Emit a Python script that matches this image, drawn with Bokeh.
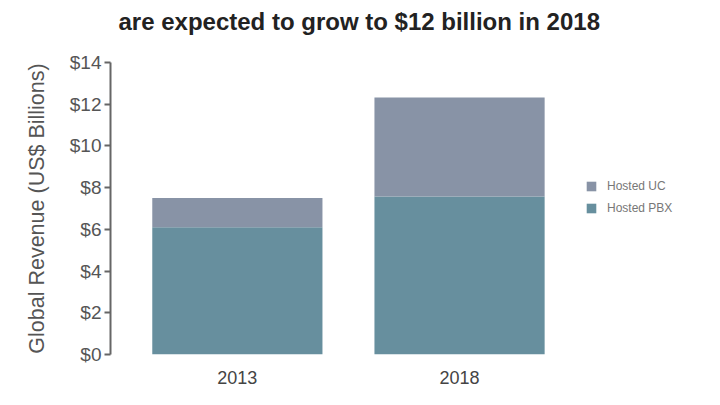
from bokeh.plotting import figure
from bokeh.models import FixedTicker, NumeralTickFormatter, Legend, LegendItem, Range1d
from bokeh.embed import file_html
from bokeh.resources import INLINE

years = ["2013", "2018"]
hosted_pbx = [6.1, 7.57]
hosted_uc = [1.4, 4.75]
y_ticks = [0, 2, 4, 6, 8, 10, 12, 14]

PBX_COLOR = "#678f9e"
UC_COLOR = "#8893a6"

x_pos = list(range(len(years)))

p = figure(width=704, height=389, output_backend="svg", toolbar_location=None,
           x_range=Range1d(-0.571, 2.08),
           y_range=Range1d(0, 14),
           min_border_left=110, min_border_right=5, min_border_top=62, min_border_bottom=35)

data = dict(x=x_pos, pbx=hosted_pbx, uc=hosted_uc)
rs = p.vbar_stack(["pbx", "uc"], x="x", width=0.766, source=data,
                  color=[PBX_COLOR, UC_COLOR], line_color=None)

p.title.text = "are expected to grow to $12 billion in 2018\n"
p.title.align = "left"
p.title.offset = 8
p.title.text_font = "Liberation Sans"
p.title.text_font_size = "24px"
p.title.text_font_style = "bold"
p.title.text_color = "#222222"
p.title.standoff = 2

p.xgrid.grid_line_color = None
p.ygrid.grid_line_color = None
p.outline_line_color = None

p.yaxis.ticker = FixedTicker(ticks=y_ticks)
p.yaxis.formatter = NumeralTickFormatter(format="$0")
p.yaxis.minor_tick_line_color = None
p.yaxis.major_tick_in = 0
p.yaxis.major_tick_out = 6
p.yaxis.axis_line_color = "#666666"
p.yaxis.axis_line_width = 2
p.yaxis.major_tick_line_color = "#666666"
p.yaxis.major_tick_line_width = 2
p.yaxis.major_label_text_font = "Liberation Sans"
p.yaxis.major_label_text_font_size = "19px"
p.yaxis.major_label_text_color = "#555555"
p.yaxis.major_label_standoff = 3
p.yaxis.axis_label = "Global Revenue (US$ Billions)"
p.yaxis.axis_label_text_font = "Liberation Sans"
p.yaxis.axis_label_text_font_size = "21.5px"
p.yaxis.axis_label_text_font_style = "normal"
p.yaxis.axis_label_text_color = "#555555"
p.yaxis.axis_label_standoff = 18

p.xaxis.ticker = FixedTicker(ticks=x_pos)
p.xaxis.major_label_overrides = {i: y for i, y in zip(x_pos, years)}
p.xaxis.axis_line_color = None
p.xaxis.major_tick_line_color = None
p.xaxis.minor_tick_line_color = None
p.xaxis.major_label_text_font = "Liberation Sans"
p.xaxis.major_label_text_font_size = "18px"
p.xaxis.major_label_text_color = "#444444"
p.xaxis.major_label_standoff = 10

legend = Legend(items=[LegendItem(label="Hosted UC", renderers=[rs[1]]),
                       LegendItem(label="Hosted PBX", renderers=[rs[0]])],
                location=(475, 139), border_line_color=None,
                background_fill_alpha=0,
                label_text_font="Liberation Sans", label_text_font_size="12px",
                label_text_color="#777777", glyph_width=12, glyph_height=12,
                label_height=12, spacing=8, label_standoff=10, margin=0, padding=0)
p.add_layout(legend, "center")

open("out.html", "w").write(file_html(p, INLINE))
